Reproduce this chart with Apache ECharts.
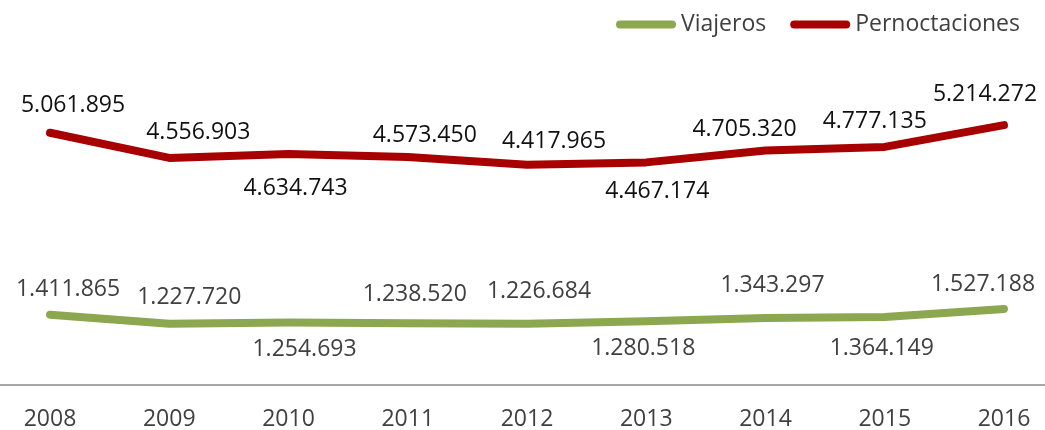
<!DOCTYPE html>
<html>
<head>
<meta charset="utf-8">
<title>Viajeros y Pernoctaciones</title>
<script src="https://cdn.jsdelivr.net/npm/echarts@6/dist/echarts.min.js"></script>
<style>
	html, body { margin: 0; padding: 0; background: #fff; }
	#chart { width: 1045px; height: 430px; }
</style>
</head>
<body>
<div id="chart"></div>
<script>
// datos
var years = ['2008', '2009', '2010', '2011', '2012', '2013', '2014', '2015', '2016'];
var viajeros = [1411865, 1227720, 1254693, 1238520, 1226684, 1280518, 1343297, 1364149, 1527188];
var pernoctaciones = [5061895, 4556903, 4634743, 4573450, 4417965, 4467174, 4705320, 4777135, 5214272];

// desplazamiento de cada etiqueta respecto al punto (solo estilo)
var viajLabelOffset = [[18, -25], [20, -26], [16, 27], [7, -29], [12, -32], [-3, 27], [7, -33], [-3, 31], [-21, -24]];
var pernLabelOffset = [[23, -27], [29, -25], [7, 34], [17, -22], [27, -23], [11, 29], [-21, -21], [-10, -25], [-19, -31]];

var FONT = '"Open Sans", "Noto Sans", sans-serif';

// 1.234.567
function fmt(v) {
	return String(v).replace(/\B(?=(\d{3})+(?!\d))/g, '.');
}

function buildData(values, offsets, color) {
	return values.map(function(v, i) {
		return {
			value: v,
			label: {
				show: true,
				position: 'inside',
				offset: offsets[i],
				color: color,
				fontSize: 23,
				fontFamily: FONT,
				formatter: function(p) { return fmt(p.value); }
			}
		};
	});
}

var capsule = 'path://M4,0 H56 A4,4 0 0 1 56,8 H4 A4,4 0 0 1 4,0 Z';

var myChart = echarts.init(document.getElementById('chart'));
var option = {
	animation: false,
	backgroundColor: '#fff',
	legend: {
		left: 611,
		top: 8,
		itemWidth: 60,
		itemHeight: 8,
		itemGap: 24,
		textStyle: { color: '#404040', fontSize: 23, fontFamily: FONT },
		data: [
			{ name: 'Viajeros', icon: capsule, itemStyle: { color: '#8BA74F' } },
			{ name: 'Pernoctaciones', icon: capsule, itemStyle: { color: '#A80000' } }
		]
	},
	// el eje ocupa todo el ancho, las categorias quedan centradas en cada banda
	grid: {
		left: -9.6,
		right: -18.6,
		top: 86,
		bottom: 45,
		outerBoundsMode: 'none',
		containLabel: false
	},
	xAxis: {
		type: 'category',
		data: years,
		boundaryGap: true,
		axisLine: { lineStyle: { color: '#a6a6a6', width: 2 } },
		axisTick: { show: false },
		axisLabel: { color: '#404040', fontSize: 23, fontFamily: FONT, margin: 23 }
	},
	yAxis: {
		type: 'value',
		min: 0,
		max: 6000000,
		show: false,
		splitLine: { show: false }
	},
	series: [{
		name: 'Viajeros',
		type: 'line',
		symbol: 'circle',
		symbolSize: 0.1,
		itemStyle: { color: '#8BA74F' },
		lineStyle: { color: '#8BA74F', width: 8, cap: 'round', join: 'round' },
		data: buildData(viajeros, viajLabelOffset, '#404040')
	}, {
		name: 'Pernoctaciones',
		type: 'line',
		symbol: 'circle',
		symbolSize: 0.1,
		itemStyle: { color: '#A80000' },
		lineStyle: { color: '#A80000', width: 8, cap: 'round', join: 'round' },
		data: buildData(pernoctaciones, pernLabelOffset, '#111111')
	}]
};
myChart.setOption(option);
</script>
</body>
</html>
